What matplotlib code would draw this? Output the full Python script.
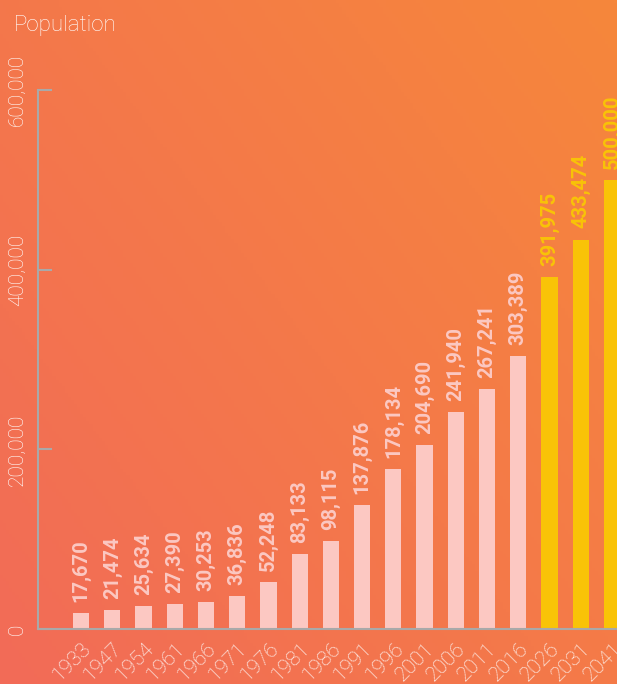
import numpy as np
import matplotlib.pyplot as plt
from matplotlib.colors import to_rgb

# datos
anios = ['1933', '1947', '1954', '1961', '1966', '1971', '1976', '1981', '1986',
         '1991', '1996', '2001', '2006', '2011', '2016', '2026', '2031', '2041']
poblacion = [17670, 21474, 25634, 27390, 30253, 36836, 52248, 83133, 98115,
             137876, 178134, 204690, 241940, 267241, 303389, 391975, 433474, 500000]
proyeccion = [False] * 15 + [True] * 3
yticks = [0, 200000, 400000, 600000]

color_hist = '#FCC8C2'
color_proy = '#F9C307'
gris = '#A9A9A9'
blanco = '#FFFFFF'

fig = plt.figure(figsize=(6.17, 6.84), dpi=100)

# fondo degradado (abajo-izquierda rojo, arriba-derecha naranja)
bg = fig.add_axes([0, 0, 1, 1], zorder=-1)
c1 = np.array(to_rgb('#F26B58'))
c2 = np.array(to_rgb('#F6873B'))
gx, gy = np.meshgrid(np.linspace(0, 1, 200), np.linspace(0, 1, 200))
t = (gx * 0.55 + gy * 0.45)[..., None]
bg.imshow(c1 * (1 - t) + c2 * t, origin='lower', extent=[0, 1, 0, 1], aspect='auto')
bg.axis('off')

ax = fig.add_axes([38 / 617, 55 / 684, 1 - 38 / 617, (629 - 90) / 684])
ax.patch.set_alpha(0)

x = np.arange(len(anios))
colores = [color_proy if p else color_hist for p in proyeccion]
ax.bar(x, poblacion, width=0.52, color=colores, zorder=2)

for xi, v, c in zip(x, poblacion, colores):
    ax.annotate(f'{v:,}', (xi, v), xytext=(0, 8), textcoords='offset points',
                rotation=90, ha='center', va='bottom', color=c,
                fontsize=14.5, fontweight='bold', family='Roboto')

ax.set_xlim(-1.376, 17.16)
ax.set_ylim(0, 600000)

ax.set_xticks(x)
ax.set_xticklabels(anios, rotation=45, ha='right', va='top', rotation_mode='anchor',
                   color=blanco, fontsize=15, family='Roboto', fontweight='light')
ax.tick_params(axis='x', length=0, pad=7)

ax.set_yticks(yticks)
ax.set_yticklabels([f'{v:,}' for v in yticks], rotation=90, va='center',
                   color=blanco, fontsize=15, family='Roboto', fontweight='light')
ax.tick_params(axis='y', direction='in', length=10, width=1.5, color=gris, pad=8)

for lado in ['top', 'right']:
    ax.spines[lado].set_visible(False)
for lado in ['left', 'bottom']:
    ax.spines[lado].set_color(gris)
    ax.spines[lado].set_linewidth(1.5)

fig.text(14 / 617, 1 - 31 / 684, 'Population', color=blanco, fontsize=16,
         family='Roboto', fontweight='light', va='baseline', ha='left')

fig.savefig('out.png', dpi=100)
